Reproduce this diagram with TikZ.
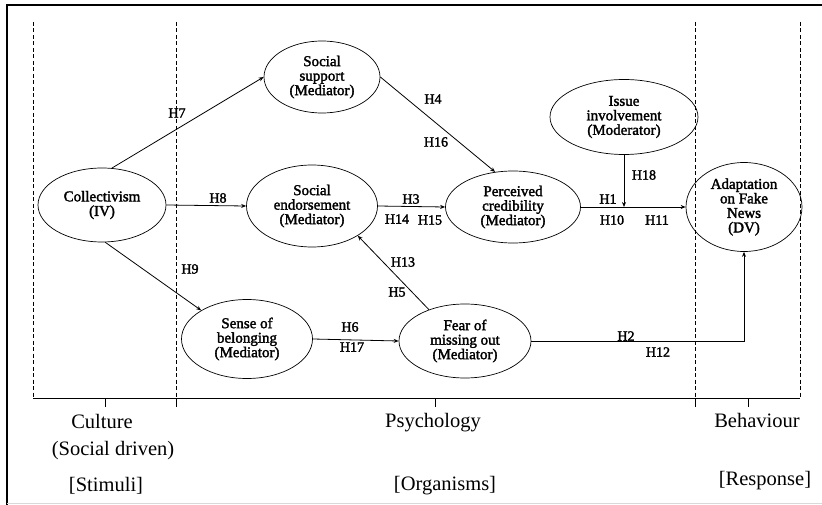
\documentclass[tikz,border=0pt]{standalone}
\usepackage{fontspec}
\setmainfont{Liberation Serif}
\newfontfamily\heavyserif[FakeBold=2]{Liberation Serif}
\usetikzlibrary{shapes.geometric,arrows.meta,calc}

\begin{document}
\begin{tikzpicture}[
  x=1pt, y=-1pt,
  >={Stealth[length=5pt,width=4pt]},
  line width=0.8pt,
  construct/.style={ellipse, draw, line width=0.7pt, inner sep=0pt, align=center,
    font=\heavyserif\fontsize{15}{14.5}\selectfont},
  hyp/.style={inner sep=0pt, font=\heavyserif\fontsize{14}{14}\selectfont},
  stage/.style={anchor=base, inner sep=0pt, font=\fontsize{20.5}{20.5}\selectfont},
  zone/.style={dash pattern=on 4pt off 2.5pt, line width=0.9pt}
]
  \useasboundingbox (0,0) rectangle (822,505);
  \draw[line width=2pt] (822,5) -- (7,5) -- (7,505);
  \draw[black!15] (7,503) -- (822,503);

  \foreach \x in {33,176,695,800}
    \draw[zone] (\x,22) -- (\x,398);
  \draw (33,398) -- (800,398);
  \foreach \x in {105,176,435,695,748}
    \draw (\x,398) -- (\x,407);

  \node[construct, minimum width=128, minimum height=74] (coll) at (102,205) {Collectivism\\(IV)};
  \node[construct, minimum width=116, minimum height=72] (supp) at (322,77) {Social\\support\\(Mediator)};
  \node[construct, minimum width=131, minimum height=82] (endo) at (312,206) {Social\\endorsement\\(Mediator)};
  \node[construct, minimum width=135, minimum height=72] (cred) at (513,207) {Perceived\\credibility\\(Mediator)};
  \node[construct, minimum width=148, minimum height=75] (issue) at (624,117) {Issue\\involvement\\(Moderator)};
  \node[construct, minimum width=116, minimum height=89] (adapt) at (744,207) {Adaptation\\on Fake\\News\\(DV)};
  \node[construct, minimum width=131, minimum height=79] (belong) at (247,339) {Sense of\\belonging\\(Mediator)};
  \node[construct, minimum width=132, minimum height=74] (fear) at (465,341) {Fear of\\missing out\\(Mediator)};

  \path[->]
    (coll.75) edge (supp.west)
    (coll.east) edge (endo.west)
    (coll.-85) edge (belong.148)
    (supp.east) edge (cred.117)
    (endo.east) edge (cred.west)
    (cred.east) edge (adapt.west)
    (belong.east) edge (fear.west)
    (fear.139) edge (endo.-33);
  \draw[->] (issue.south) -- (issue.south |- cred.east);
  \draw[->] (fear.east) -| (adapt.south);

  \foreach \n/\x/\y in {7/177/113, 8/218/198, 9/190/269, 4/433/99, 16/436/142,
      3/411/199, 14/397/219, 15/430/220, 1/608/199, 10/612/220, 11/657/220,
      18/644/175, 13/403/262, 5/397/292, 6/350/327, 17/352/347, 2/626/336, 12/658/352}
    \node[hyp] (h\n) at (\x,\y) {H\n};

  \node[stage] (culture) at (102,428) {Culture};
  \node[stage] (driven) at (113,455) {(Social driven)};
  \node[stage] (stimuli) at (106,491) {[Stimuli]};
  \node[stage] (psych) at (433,427) {Psychology};
  \node[stage] (organ) at (445,490) {[Organisms]};
  \node[stage] (behav) at (757,427) {Behaviour};
  \node[stage] (resp) at (765,485) {[Response]};
\end{tikzpicture}
\end{document}
